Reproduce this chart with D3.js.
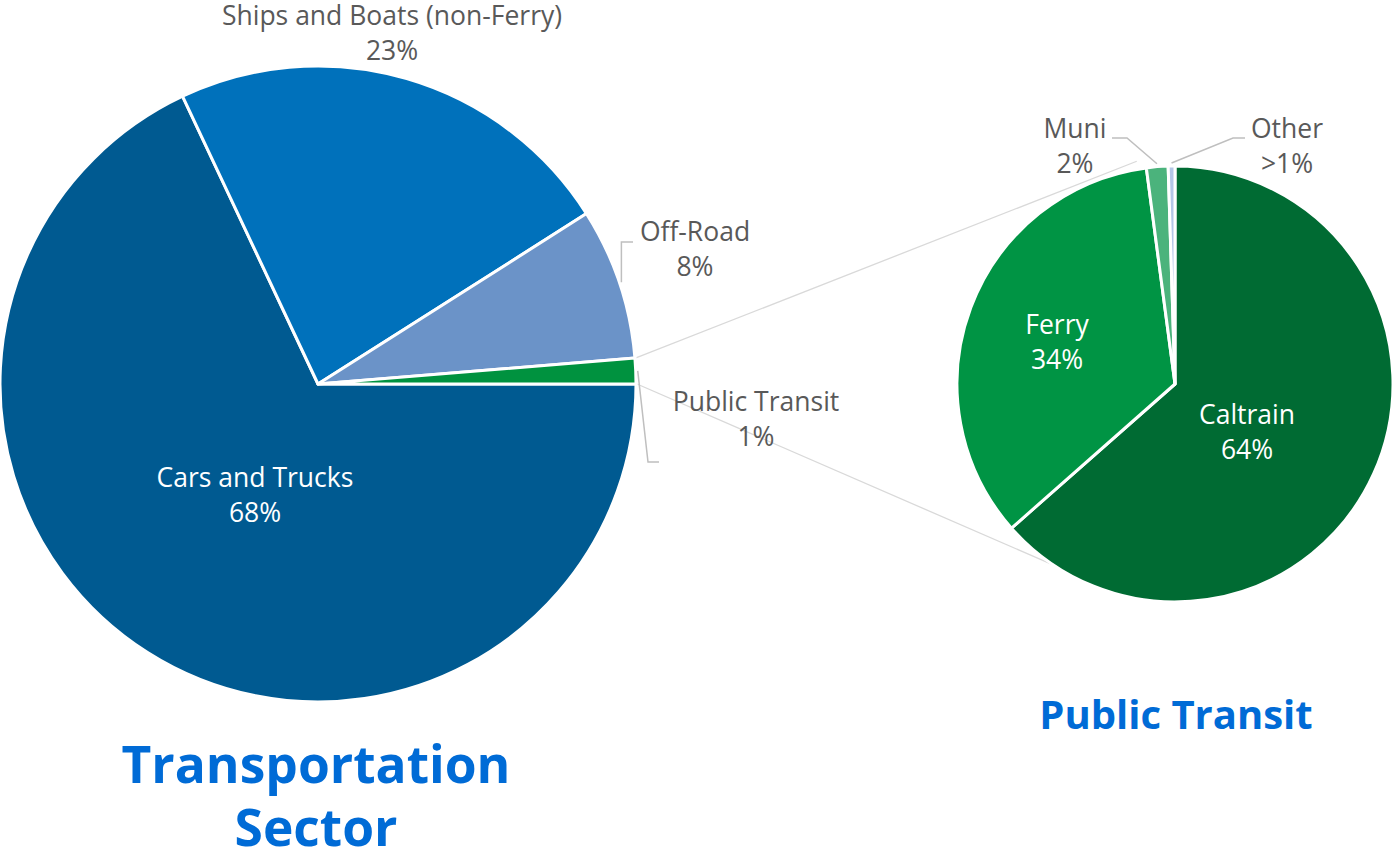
<!doctype html>
<html>
<head>
<script src="https://d3js.org/d3.v7.min.js"></script>
<style>
  body { margin: 0; background: #fff; }
  text { font-family: "Open Sans", "Noto Sans", sans-serif; }
</style>
</head>
<body>
<svg id="chart" width="1394" height="851"></svg>
<script>
// transportation sector shares (percent)
var sectorNames = ["Cars and Trucks", "Ships and Boats (non-Ferry)", "Off-Road", "Public Transit"];
var sectorValues = [68, 23, 7.7, 1.3];
var sectorLabels = ["68%", "23%", "8%", "1%"];
var sectorColors = ["#005a91", "#0071bb", "#6b93c8", "#00923f"];

// public transit breakdown (percent)
var transitNames = ["Caltrain", "Ferry", "Muni", "Other"];
var transitValues = [63.5, 34.4, 1.6, 0.5];
var transitLabels = ["64%", "34%", "2%", ">1%"];
var transitColors = ["#006b33", "#009444", "#4bb37c", "#b4c6e7"];

var svg = d3.select("#chart");

var left = {cx: 318, cy: 384, r: 318};
var right = {cx: 1175, cy: 384, r: 218};

function pt(p, ang, rad) {
  return [p.cx + Math.sin(ang) * rad, p.cy - Math.cos(ang) * rad];
}

var pieL = d3.pie().sort(null).value(function(d) { return d; })
  .startAngle(Math.PI / 2).endAngle(Math.PI / 2 + 2 * Math.PI);
var pieR = d3.pie().sort(null).value(function(d) { return d; })
  .startAngle(0).endAngle(2 * Math.PI);

var arcsL = pieL(sectorValues);
var arcsR = pieR(transitValues);

// connector lines between the two pies
var pt0 = arcsL[3];
var lineData = [
  [pt(left, pt0.startAngle, left.r + 1), pt(right, -0.17, right.r + 8)],
  [pt(left, pt0.endAngle, left.r + 1), pt(right, 3.435, right.r - 2)]
];
svg.selectAll(".conn").data(lineData).enter().append("line")
  .attr("class", "conn")
  .attr("x1", function(d) { return d[0][0]; })
  .attr("y1", function(d) { return d[0][1]; })
  .attr("x2", function(d) { return d[1][0]; })
  .attr("y2", function(d) { return d[1][1]; })
  .attr("stroke", "#d9d9d9")
  .attr("stroke-width", 1.3);

var arcL = d3.arc().innerRadius(0).outerRadius(left.r);
var arcR = d3.arc().innerRadius(0).outerRadius(right.r);

svg.append("g").attr("transform", "translate(" + left.cx + "," + left.cy + ")")
  .selectAll("path").data(arcsL).enter().append("path")
  .attr("d", arcL)
  .attr("fill", function(d, i) { return sectorColors[i]; })
  .attr("stroke", "#fff")
  .attr("stroke-width", 3)
  .attr("stroke-linejoin", "round");

svg.append("g").attr("transform", "translate(" + right.cx + "," + right.cy + ")")
  .selectAll("path").data(arcsR).enter().append("path")
  .attr("d", arcR)
  .attr("fill", function(d, i) { return transitColors[i]; })
  .attr("stroke", "#fff")
  .attr("stroke-width", 3)
  .attr("stroke-linejoin", "round");

// leader lines
function mid(a) { return (a.startAngle + a.endAngle) / 2; }
var offA = pt(left, mid(arcsL[2]), left.r + 2);
var ptA = pt(left, mid(arcsL[3]), left.r + 2);
var muA = pt(right, mid(arcsR[2]), right.r + 3);
var otA = pt(right, mid(arcsR[3]), right.r + 3);
var leaders = [
  [offA, [offA[0], 242], [633, 242]],
  [ptA, [648, 462], [659, 462]],
  [muA, [1127, 138], [1112, 138]],
  [otA, [1233, 138], [1245, 138]]
];
svg.selectAll(".lead").data(leaders).enter().append("path")
  .attr("class", "lead")
  .attr("d", d3.line())
  .attr("fill", "none")
  .attr("stroke", "#bfbfbf")
  .attr("stroke-width", 1.5);

// data labels
var labelPos = {
  "Cars and Trucks": [255, 487, "#fff"],
  "Ships and Boats (non-Ferry)": [392, 25, "#595959"],
  "Off-Road": [695, 241, "#595959"],
  "Public Transit": [756, 411, "#595959"],
  "Caltrain": [1247, 424, "#fff"],
  "Ferry": [1057, 334, "#fff"],
  "Muni": [1075, 138, "#595959"],
  "Other": [1287, 138, "#595959"]
};
var allLabels = sectorNames.map(function(n, i) { return [n, sectorLabels[i]]; })
  .concat(transitNames.map(function(n, i) { return [n, transitLabels[i]]; }));

var lbl = svg.selectAll(".lbl").data(allLabels).enter().append("text")
  .attr("class", "lbl")
  .attr("text-anchor", "middle")
  .attr("font-size", 26.5)
  .attr("fill", function(d) { return labelPos[d[0]][2]; })
  .attr("x", function(d) { return labelPos[d[0]][0]; })
  .attr("y", function(d) { return labelPos[d[0]][1]; });
lbl.append("tspan").text(function(d) { return d[0]; });
lbl.append("tspan")
  .attr("x", function(d) { return labelPos[d[0]][0]; })
  .attr("dy", 35)
  .text(function(d) { return d[1]; });

// titles
var title = svg.append("text")
  .attr("text-anchor", "middle")
  .attr("font-size", 51.5)
  .attr("font-weight", "bold")
  .attr("fill", "#006bd6")
  .attr("x", 316).attr("y", 783);
title.append("tspan").text("Transportation");
title.append("tspan").attr("x", 316).attr("dy", 63).text("Sector");

svg.append("text")
  .attr("text-anchor", "middle")
  .attr("font-size", 40)
  .attr("font-weight", "bold")
  .attr("fill", "#006bd6")
  .attr("x", 1176).attr("y", 729)
  .text("Public Transit");
</script>
</body>
</html>
